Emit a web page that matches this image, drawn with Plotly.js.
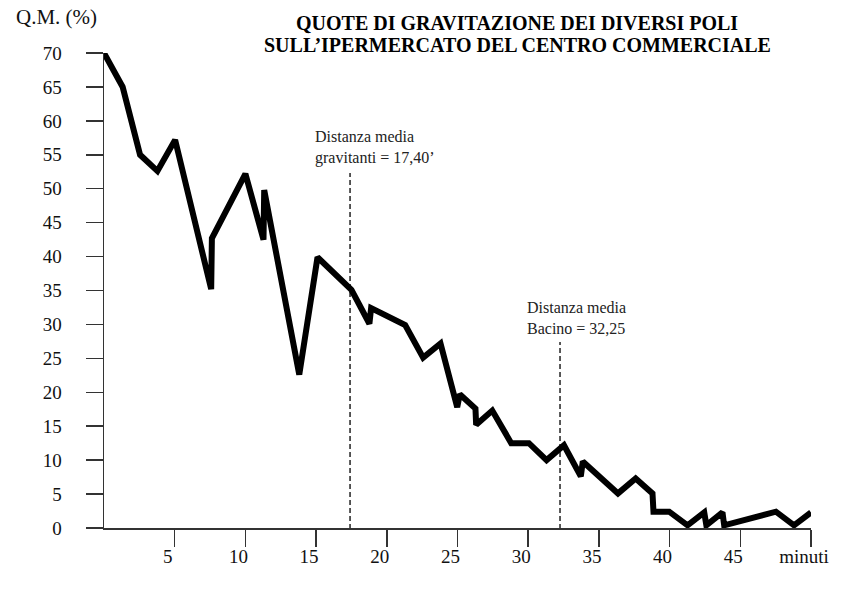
<!DOCTYPE html>
<html>
<head>
<meta charset="utf-8">
<script src="https://cdn.plot.ly/plotly-3.0.1.min.js"></script>
<style>
  html, body { margin: 0; padding: 0; background: #fff; }
  #plot { width: 850px; height: 589px; }
</style>
</head>
<body>
<div id="plot"></div>
<script>
// minutes of travel time vs share of gravitation (Q.M. %)
var minuti = [0, 1.32, 2.55, 3.78, 5.03, 7.58, 7.63, 10.0, 11.28, 11.33, 13.81, 15.1,
  17.5, 18.77, 18.89, 21.3, 22.57, 23.8, 24.98, 25.16, 26.27, 26.32, 27.46, 28.8,
  30.05, 31.3, 32.53, 33.72, 33.86, 36.35, 37.6, 38.79, 38.86, 39.97, 41.27, 42.45,
  42.6, 43.74, 43.86, 47.52, 48.8, 50]
var quote = [70, 65, 55, 52.6, 57.2, 35.2, 42.7, 52.2, 42.5, 49.8, 22.6, 39.9,
  35.1, 30.1, 32.4, 29.9, 25.1, 27.2, 17.8, 19.7, 17.6, 15.2, 17.3, 12.5,
  12.5, 10.0, 12.2, 7.6, 9.8, 5.1, 7.3, 5.1, 2.4, 2.4, 0.4, 2.3,
  0.4, 2.3, 0.4, 2.4, 0.4, 2.3]

var xTicks = [5, 10, 15, 20, 25, 30, 35, 40, 45, 50]
var xLabels = ['5', '10', '15', '20', '25', '30', '35', '40', '45', 'minuti']
var yTicks = [0, 5, 10, 15, 20, 25, 30, 35, 40, 45, 50, 55, 60, 65, 70]

var distGravitanti = 17.4
var distBacino = 32.25
var titleLines = ['QUOTE DI GRAVITAZIONE DEI DIVERSI POLI', 'SULL\u2019IPERMERCATO DEL CENTRO COMMERCIALE']

var serif = '"Liberation Serif", "Times New Roman", serif'

var trace = {
  x: minuti,
  y: quote,
  type: 'scatter',
  mode: 'lines',
  line: {color: '#000', width: 6},
  cliponaxis: false,
  hoverinfo: 'x+y'
}

function vline(x, top) {
  return {
    type: 'line', xref: 'x', yref: 'y',
    x0: x, x1: x, y0: -2.5, y1: top,
    line: {color: '#000', width: 1.3, dash: '5px,3px'}
  }
}

var layout = {
  width: 850,
  height: 589,
  margin: {l: 104, r: 39, t: 53, b: 61},
  paper_bgcolor: '#fff',
  plot_bgcolor: '#fff',
  showlegend: false,
  font: {family: serif, size: 19, color: '#111'},
  xaxis: {
    range: [0, 50],
    showgrid: false, zeroline: false,
    showline: true, linecolor: '#333', linewidth: 1.5,
    ticks: 'outside', ticklen: 17, tickwidth: 1.5, tickcolor: '#333',
    tickvals: xTicks, ticktext: xLabels,
    ticklabelstandoff: -6,
    ticklabelshift: -7
  },
  yaxis: {
    range: [0, 70],
    showgrid: false, zeroline: false,
    showline: true, linecolor: '#333', linewidth: 1.5,
    ticks: 'outside', ticklen: 17, tickwidth: 1.5, tickcolor: '#333',
    tickvals: yTicks,
    ticklabelstandoff: 20
  },
  shapes: [vline(distGravitanti, 52.3), vline(distBacino, 27.4)],
  annotations: [
    {
      xref: 'paper', yref: 'paper', x: 0.5844, y: 1.063,
      text: '<b>' + titleLines[0] + '</b>', showarrow: false,
      xanchor: 'center', yanchor: 'middle',
      font: {family: serif, size: 20, color: '#000'}
    },
    {
      xref: 'paper', yref: 'paper', x: 0.5844, y: 1.017,
      text: '<b>' + titleLines[1] + '</b>', showarrow: false,
      xanchor: 'center', yanchor: 'middle',
      font: {family: serif, size: 20, color: '#000'}
    },
    {
      xref: 'paper', yref: 'paper', x: -0.128, y: 1.075,
      text: 'Q.M. (%)', showarrow: false,
      xanchor: 'left', yanchor: 'middle',
      font: {family: serif, size: 21, color: '#111'}
    },
    {
      xref: 'x', yref: 'y', x: 14.77, y: 56.06,
      text: 'Distanza media<br>gravitanti = 17,40\u2019', showarrow: false,
      xanchor: 'left', yanchor: 'middle', align: 'left',
      font: {family: serif, size: 16, color: '#222'}
    },
    {
      xref: 'x', yref: 'y', x: 29.8, y: 31.0,
      text: 'Distanza media<br>Bacino = 32,25', showarrow: false,
      xanchor: 'left', yanchor: 'middle', align: 'left',
      font: {family: serif, size: 16, color: '#222'}
    }
  ]
}

Plotly.newPlot('plot', [trace], layout, {displayModeBar: false, staticPlot: true})
</script>
</body>
</html>
